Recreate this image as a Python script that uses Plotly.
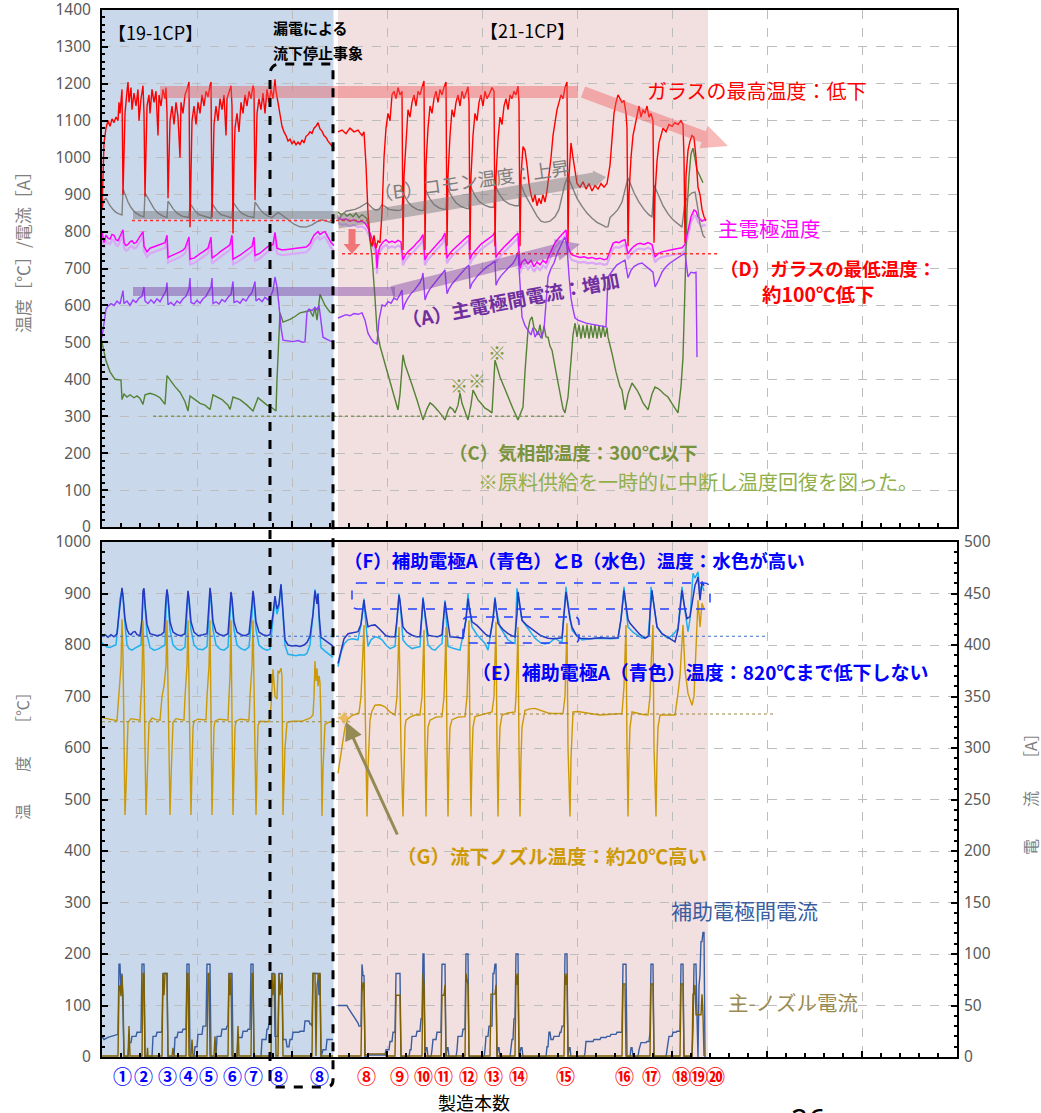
import math
import plotly.graph_objects as go

# ---------------- DATA (common time index on the horizontal scale) ----------------
# Top panel: temperatures [°C] / current [A]
red_19 = [(102,860),(103,960),(104,1040),(106,1080),(108,1100),(110,1085),(112,1105),(114,1095),(116,1110),(118,1100),(119,1150),(120,1120),(121,1170),(122,1185),(123,900),(124,1050),(125,1120),(127,1180),(128,1205),(129,1150),(131,1190),(132,1130),(134,1175),(136,1140),(138,1185),(139,1100),(141,1160),(143,1195),(144,1120),(145,895),(146,1060),(147,1140),(149,1170),(150,1120),(152,1185),(154,1150),(156,1180),(158,1060),(159,1170),(161,1140),(163,1185),(165,1160),(166,1190),(167,1120),(168,890),(169,1030),(170,1100),(172,1140),(174,1090),(176,1150),(178,1110),(180,1000),(181,1150),(183,1120),(185,1170),(187,1185),(189,1205),(190,812),(191,1030),(192,1100),(194,1140),(196,1090),(198,1150),(200,1120),(202,1170),(204,1140),(206,1180),(208,1165),(210,1195),(211,1205),(212,838),(213,1020),(214,1090),(216,1140),(218,1100),(220,1160),(222,1130),(224,1170),(226,1060),(227,1160),(229,1180),(231,1195),(232,1140),(233,795),(234,990),(235,1080),(237,1120),(239,1070),(241,1150),(243,1120),(245,1170),(247,1140),(249,1180),(251,1160),(253,1195),(254,1185),(255,885),(256,1050),(257,1120),(259,1160),(261,1130),(263,1175),(265,1120),(267,1185),(269,1150),(271,1185),(273,1160),(275,1212),(276,1180),(278,1150),(280,1110),(282,1085),(284,1070),(286,1060),(288,1045),(290,1050),(292,1038),(294,1045),(296,1035),(298,1042),(300,1036),(302,1048),(304,1040),(306,1058),(308,1062),(310,1070),(312,1066),(314,1080),(316,1085),(318,1095),(320,1078),(322,1072),(324,1060),(326,1055),(328,1045),(330,1038),(332,1030),(334,1025)]
red_21 = [(338,1070),(342,1075),(346,1065),(350,1080),(354,1070),(358,1075),(362,1060),(364,1070),(366,980),(368,850),(370,780),(372,760),(374,790),(376,755),(378,775),(380,770),(382,850),(384,1000),(386,1080),(388,1120),(390,1100),(392,1170),(394,1180),(396,1160),(398,1190),(400,1170),(402,1180),(403,750),(404,950),(406,1060),(408,1130),(410,1110),(412,1150),(414,1170),(416,1140),(418,1180),(420,1170),(422,1190),(424,1208),(425,750),(426,980),(428,1080),(430,1140),(432,1120),(434,1160),(436,1180),(438,1150),(440,1185),(442,1170),(444,1190),(446,1205),(447,760),(448,950),(450,1060),(452,1130),(454,1110),(456,1150),(458,1170),(460,1140),(462,1180),(464,1160),(466,1175),(468,1192),(469,1150),(470,750),(471,950),(473,1060),(475,1120),(477,1100),(479,1150),(481,1170),(483,1140),(485,1180),(487,1160),(489,1170),(492,1190),(494,1180),(495,760),(496,950),(498,1050),(500,1110),(502,1090),(504,1140),(506,1160),(508,1130),(510,1170),(512,1160),(514,1180),(516,1170),(518,1194),(519,1150),(520,760),(521,950),(523,1030),(525,1020),(527,980),(529,930),(531,900),(533,880),(535,900),(537,870),(539,890),(541,875),(543,900),(545,880),(547,910),(549,950),(551,1000),(553,1060),(555,1100),(557,1130),(559,1150),(561,1170),(563,1160),(565,1190),(567,1205),(568,770),(569,950),(571,1040),(573,1000),(575,960),(577,930),(580,920),(583,935),(586,915),(589,930),(592,910),(595,925),(598,915),(601,930),(604,920),(607,930),(610,980),(612,1060),(614,1120),(616,1150),(618,1170),(620,1160),(622,1150),(624,1155),(626,1120),(627,1080),(628,760),(629,900),(631,1000),(633,1060),(635,1090),(637,1120),(639,1140),(641,1110),(643,1130),(645,1120),(647,1140),(649,1110),(651,1120),(653,1100),(654,770),(655,900),(657,990),(659,1040),(661,1060),(663,1080),(666,1070),(669,1090),(672,1085),(675,1095),(678,1090),(681,1100),(683,1090),(684,1000),(685,770),(686,950),(688,1020),(690,1045),(692,1060),(694,1055),(696,1000),(698,920),(700,900),(702,860),(704,840),(706,830)]
gray_19 = [(102,862),(104,885),(106,890),(108,880),(110,870),(113,860),(116,852),(119,848),(122,845),(123,915),(125,900),(128,880),(131,865),(135,852),(140,843),(144,840),(145,905),(147,895),(150,878),(154,862),(158,850),(163,842),(167,838),(168,882),(170,875),(173,862),(177,850),(182,842),(189,838),(190,875),(192,868),(195,856),(199,846),(205,840),(211,836),(212,876),(214,868),(217,856),(221,846),(227,840),(232,837),(233,880),(235,872),(238,860),(242,849),(248,841),(254,838),(255,880),(257,872),(260,860),(264,849),(268,842),(272,838),(278,852),(282,845),(288,832),(294,820),(300,813),(306,812),(312,818),(318,828),(322,832),(326,829),(330,825),(334,822)]
gray_21 = [(338,830),(342,845),(346,855),(350,858),(355,860),(360,866),(364,872),(367,878),(370,870),(373,862),(376,858),(379,860),(382,872),(385,868),(389,860),(393,858),(397,857),(400,858),(402,860),(403,905),(405,895),(408,880),(412,868),(417,860),(421,857),(424,858),(425,915),(427,905),(430,888),(434,873),(439,864),(444,860),(446,860),(447,920),(449,910),(452,893),(456,878),(461,868),(466,863),(469,862),(470,925),(472,915),(475,897),(479,882),(484,872),(490,866),(494,866),(495,925),(497,915),(500,898),(504,884),(509,875),(515,870),(519,870),(520,930),(522,920),(525,900),(529,880),(533,860),(537,842),(541,828),(545,825),(550,828),(555,840),(559,860),(562,900),(565,930),(568,948),(570,935),(573,912),(577,890),(582,868),(587,850),(592,836),(597,825),(602,818),(606,812),(608,813),(610,838),(614,848),(618,860),(622,880),(626,925),(628,945),(630,932),(634,905),(639,880),(644,860),(649,845),(652,840),(654,926),(656,915),(659,895),(663,870),(668,848),(673,832),(678,820),(682,812),(685,880),(688,895),(692,905),(695,907),(698,860),(700,820),(703,790),(705,783)]
electrode_19 = [(102,800),(104,770),(106,790),(108,782),(110,780),(112,792),(114,790),(116,778),(118,775),(121,795),(123,805),(124,770),(126,762),(128,765),(130,772),(132,775),(134,768),(136,770),(138,778),(140,785),(143,800),(144,760),(147,745),(150,755),(153,758),(155,760),(158,762),(160,765),(163,768),(165,770),(167,790),(168,730),(170,733),(172,735),(174,738),(176,740),(178,742),(180,745),(183,750),(185,755),(189,785),(190,725),(192,727),(194,728),(196,732),(198,735),(200,740),(203,745),(206,750),(208,755),(211,785),(212,728),(214,732),(216,735),(218,740),(220,745),(223,750),(225,755),(228,760),(230,765),(232,790),(233,725),(235,728),(237,730),(240,736),(242,740),(245,746),(247,750),(250,756),(252,760),(254,785),(255,735),(257,738),(259,740),(262,746),(264,750),(266,756),(268,760),(271,762),(273,765),(275,798),(277,755),(280,752),(282,750),(285,751),(288,752),(291,754),(294,755),(297,754),(300,755),(303,757),(306,758),(308,762),(310,768),(312,780),(314,790),(316,795),(318,800),(320,792),(321,795),(323,798),(325,800),(327,790),(328,785),(330,775),(331,770),(334,762)]
electrode_21 = [(338,837),(342,832),(346,834),(350,828),(354,832),(358,826),(362,828),(365,823),(368,810),(371,790),(374,770),(376,752),(377,700),(378,740),(380,760),(383,772),(386,778),(389,770),(392,774),(395,770),(398,776),(401,772),(403,723),(405,735),(408,745),(411,752),(414,760),(417,770),(420,778),(423,792),(425,723),(427,735),(430,745),(433,755),(436,765),(439,772),(442,780),(445,796),(447,728),(449,738),(452,748),(455,756),(458,764),(461,770),(464,778),(467,786),(469,790),(470,725),(472,738),(475,748),(478,758),(481,766),(484,772),(487,778),(490,784),(493,790),(495,800),(496,730),(498,740),(501,750),(504,758),(507,766),(510,774),(513,780),(516,790),(518,796),(520,700),(522,718),(525,725),(528,712),(531,722),(534,705),(537,718),(540,710),(543,722),(546,715),(549,735),(552,755),(555,770),(558,780),(561,790),(564,800),(566,804),(568,760),(570,745),(572,737),(576,734),(580,730),(584,732),(588,728),(592,730),(596,726),(600,728),(604,724),(607,726),(610,750),(613,768),(616,772),(619,770),(622,775),(625,778),(628,740),(631,752),(634,760),(637,766),(640,768),(644,765),(648,770),(652,765),(655,731),(658,740),(662,745),(666,748),(670,750),(674,752),(678,754),(682,756),(685,765),(688,800),(691,840),(694,858),(696,855),(698,840),(700,835),(702,828),(704,832),(706,830)]
current_19 = [(102,514),(104,560),(106,590),(108,598),(111,605),(114,600),(117,612),(120,604),(122,625),(123,640),(124,605),(127,612),(130,600),(133,615),(136,608),(139,620),(142,625),(144,650),(145,612),(148,605),(151,615),(154,606),(157,618),(160,610),(163,625),(166,640),(167,662),(168,602),(171,608),(174,600),(177,612),(180,606),(183,618),(186,625),(189,645),(190,674),(191,608),(194,604),(197,614),(200,606),(203,618),(206,625),(209,640),(211,650),(212,674),(213,605),(216,610),(219,604),(222,616),(225,610),(228,622),(231,630),(233,665),(234,608),(237,612),(240,606),(243,618),(246,612),(249,625),(252,635),(255,665),(256,612),(259,618),(262,610),(265,622),(268,615),(271,628),(273,640),(275,677),(277,650),(279,600),(281,540),(283,506),(288,504),(293,502),(298,505),(303,500),(305,502),(307,582),(309,590),(312,586),(315,595),(317,588),(319,600),(321,560),(323,514),(327,508),(330,504),(334,501)]
current_21 = [(338,566),(342,570),(346,575),(350,572),(354,578),(358,576),(362,580),(365,560),(368,525),(371,510),(374,500),(377,496),(379,560),(382,601),(385,598),(388,610),(391,606),(394,620),(397,615),(400,630),(402,642),(403,588),(405,605),(408,620),(411,632),(414,640),(417,650),(420,662),(422,675),(423,688),(425,615),(427,630),(430,645),(433,655),(436,665),(439,675),(442,685),(445,696),(447,632),(449,645),(452,658),(455,668),(458,678),(461,688),(464,696),(467,705),(469,709),(470,645),(472,660),(475,672),(478,682),(481,690),(484,698),(487,705),(490,710),(493,716),(495,720),(496,655),(498,668),(501,680),(504,690),(507,698),(510,706),(513,714),(516,728),(518,745),(520,660),(522,569),(525,545),(528,533),(531,520),(533,540),(535,514),(538,530),(541,512),(544,535),(546,600),(548,677),(551,700),(554,715),(557,740),(560,760),(563,775),(565,785),(567,760),(569,680),(571,620),(573,590),(575,566),(578,560),(582,555),(586,552),(590,550),(594,548),(598,546),(602,544),(606,542),(608,677),(611,690),(614,700),(617,710),(620,715),(623,720),(625,723),(628,674),(631,695),(634,705),(638,712),(642,715),(646,705),(650,696),(653,690),(655,650),(658,665),(662,690),(666,705),(670,715),(674,722),(678,731),(682,738),(685,742),(688,677),(691,690),(694,688),(695,688),(696,690),(697,460)]
gas_19 = [(102,500),(106,450),(110,420),(115,400),(121,398),(122,345),(124,360),(127,352),(130,358),(134,350),(137,355),(140,348),(143,332),(145,358),(150,362),(155,358),(160,350),(165,332),(167,410),(170,398),(175,380),(180,365),(185,340),(188,314),(190,355),(195,345),(200,335),(205,330),(210,318),(213,358),(217,352),(222,345),(228,330),(230,318),(233,352),(240,345),(247,330),(253,314),(258,350),(262,340),(267,330),(272,323),(275,318),(276,314),(277,400),(279,560),(280,580),(283,555),(290,562),(295,570),(300,580),(305,583),(310,586),(313,570),(315,595),(317,560),(320,630),(322,618),(325,600),(330,582),(333,580)]
gas_21 = [(338,853),(341,846),(344,850),(347,842),(350,848),(353,840),(356,850),(359,838),(362,846),(365,840),(367,835),(369,800),(372,731),(375,620),(377,533),(380,490),(382,471),(386,430),(390,398),(394,360),(398,317),(400,360),(403,466),(405,440),(407,425),(412,385),(417,344),(420,315),(423,290),(427,320),(430,336),(433,330),(435,325),(438,315),(441,305),(445,290),(448,315),(450,325),(453,318),(455,309),(458,330),(460,363),(462,335),(465,310),(468,290),(471,330),(473,371),(476,355),(478,344),(481,335),(485,322),(488,317),(492,309),(495,452),(498,420),(500,406),(504,380),(508,352),(513,320),(518,290),(521,310),(523,325),(525,420),(528,533),(530,560),(532,569),(534,540),(536,533),(538,520),(540,548),(542,510),(544,545),(546,515),(548,514),(550,490),(552,479),(556,420),(560,360),(563,320),(565,309),(568,352),(571,450),(573,520),(575,552),(577,515),(579,548),(581,510),(583,546),(585,512),(587,548),(589,510),(591,546),(593,512),(595,548),(597,510),(599,546),(601,512),(603,545),(605,515),(607,540),(608,514),(612,470),(616,420),(620,380),(622,371),(625,317),(628,360),(632,390),(635,380),(637,371),(640,355),(643,336),(646,325),(648,317),(652,360),(655,379),(658,375),(660,371),(664,360),(668,352),(673,330),(678,309),(681,380),(683,460),(685,650),(687,858),(689,950),(691,1010),(693,1026),(695,1000),(697,967),(700,950),(703,932)]

# Bottom panel: temperatures [°C] (left) and currents [A] (right)
auxA_19 = [(102,817),(105,820),(108,815),(111,820),(114,816),(117,822),(119,860),(121,905),(122,911),(123,895),(125,850),(127,830),(129,822),(131,820),(133,825),(135,826),(137,820),(140,818),(142,850),(143,905),(144,910),(145,880),(147,840),(150,822),(153,820),(157,818),(161,820),(164,825),(166,890),(167,908),(168,895),(170,845),(173,825),(177,820),(181,818),(185,822),(187,880),(188,905),(189,890),(191,845),(194,825),(198,818),(203,820),(207,822),(209,880),(210,911),(211,895),(213,845),(216,825),(220,820),(224,818),(228,822),(230,875),(231,903),(232,890),(234,845),(237,825),(241,820),(245,818),(249,822),(252,880),(253,905),(254,890),(256,845),(259,825),(263,820),(267,818),(270,820),(273,860),(275,895),(277,870),(279,880),(281,918),(283,870),(285,810),(288,800),(292,798),(296,799),(300,797),(304,800),(307,805),(310,817),(313,860),(315,905),(317,880),(318,900),(319,860),(321,815),(324,811),(328,806),(333,798)]
auxA_21 = [(338,764),(341,790),(344,812),(348,822),(352,824),(358,826),(361,840),(363,880),(364,887),(365,870),(368,835),(371,838),(375,839),(379,832),(382,826),(386,818),(390,816),(395,816),(397,850),(399,897),(400,885),(403,835),(407,825),(412,819),(416,816),(420,816),(422,860),(423,890),(424,875),(428,819),(433,817),(438,816),(442,820),(444,860),(445,884),(446,870),(450,816),(456,815),(463,813),(466,850),(468,890),(469,875),(472,845),(477,838),(482,829),(486,820),(490,816),(493,850),(495,890),(496,875),(498,842),(503,830),(508,822),(512,818),(515,816),(517,860),(518,903),(519,890),(522,848),(527,838),(531,832),(535,826),(541,818),(548,813),(553,812),(558,813),(562,814),(564,860),(566,903),(567,890),(570,850),(572,835),(576,820),(580,813),(590,812),(600,814),(610,813),(618,814),(621,850),(624,906),(625,890),(628,850),(630,842),(635,830),(640,820),(645,813),(649,818),(650,860),(652,906),(653,890),(657,835),(662,822),(668,815),(672,810),(675,806),(678,830),(680,870),(682,906),(684,880),(687,851),(690,855),(693,890),(695,916),(697,925),(698,932),(700,887),(702,923),(704,915)]
auxB_19 = [(102,805),(104,800),(107,796),(110,795),(113,798),(116,800),(118,840),(120,890),(122,905),(123,895),(125,840),(127,800),(129,793),(132,790),(135,794),(138,797),(141,800),(142,840),(143,895),(144,905),(145,880),(147,820),(150,795),(154,790),(158,792),(162,796),(165,800),(166,870),(167,900),(168,890),(170,830),(173,800),(177,792),(181,790),(185,796),(187,860),(188,900),(189,885),(191,830),(194,800),(198,792),(203,791),(207,797),(209,860),(210,905),(211,890),(213,830),(216,800),(220,792),(224,790),(228,796),(230,860),(231,898),(232,885),(234,830),(237,800),(241,793),(245,790),(249,796),(252,860),(253,900),(254,885),(256,830),(259,800),(263,793),(267,790),(270,792),(273,850),(275,890),(277,860),(279,875),(281,918),(283,860),(285,800),(288,782),(292,780),(296,779),(300,781),(304,780),(307,784),(310,800),(313,860),(315,908),(317,880),(318,900),(319,850),(321,795),(325,788),(329,782),(333,776)]
auxB_21 = [(338,758),(341,785),(344,802),(348,810),(352,812),(358,810),(361,840),(363,880),(364,890),(365,860),(368,797),(371,810),(375,816),(379,814),(382,810),(386,800),(390,793),(395,797),(397,850),(399,900),(400,885),(403,810),(407,800),(412,793),(416,795),(420,797),(422,860),(423,893),(424,875),(428,800),(432,792),(435,790),(439,798),(442,803),(444,860),(445,887),(446,860),(448,797),(454,793),(460,790),(466,850),(468,900),(469,880),(472,835),(477,820),(482,810),(485,803),(488,790),(493,850),(495,893),(496,870),(500,835),(504,822),(508,810),(512,805),(515,803),(516,860),(517,910),(518,895),(522,848),(527,835),(531,825),(535,813),(540,805),(545,802),(550,805),(555,813),(559,808),(562,806),(564,860),(566,913),(567,895),(570,850),(572,829),(577,818),(582,810),(590,812),(600,813),(610,812),(618,813),(621,850),(624,913),(625,890),(628,835),(633,825),(638,818),(642,813),(648,816),(650,860),(651,913),(653,890),(657,835),(662,822),(668,813),(673,820),(678,832),(680,870),(682,913),(684,880),(688,826),(690,850),(693,939),(695,930),(698,942),(700,900),(702,916),(704,905)]
nozzle_19 = [(102,659),(106,657),(110,655),(114,654),(117,653),(118,680),(120,730),(121,760),(122,850),(123,780),(124,620),(125,470),(126,520),(127,580),(128,650),(131,657),(136,655),(140,654),(141,700),(142,735),(143,848),(144,760),(145,600),(146,470),(147,530),(148,600),(149,650),(152,658),(156,655),(160,654),(162,700),(164,720),(165,735),(166,760),(167,848),(168,740),(169,600),(170,470),(171,540),(172,620),(173,650),(176,657),(180,655),(184,654),(185,700),(186,735),(187,760),(188,848),(189,700),(190,550),(191,470),(192,560),(193,640),(194,652),(198,656),(203,655),(206,655),(207,700),(208,740),(209,760),(210,848),(211,700),(212,470),(213,560),(214,640),(215,652),(219,656),(224,655),(228,654),(229,700),(230,740),(231,848),(232,700),(233,470),(234,560),(235,640),(236,652),(240,656),(245,655),(249,654),(250,700),(251,735),(252,760),(253,848),(254,700),(255,560),(256,470),(257,560),(258,645),(260,652),(265,651),(269,651),(271,680),(272,720),(273,753),(275,700),(277,695),(278,750),(279,745),(281,755),(282,740),(283,470),(285,600),(287,650),(292,652),(297,652),(302,652),(306,655),(310,658),(313,664),(314,700),(315,769),(316,730),(317,755),(318,720),(319,740),(320,727),(321,650),(322,468),(323,560),(325,646),(329,650),(333,652)]
nozzle_21 = [(338,551),(340,580),(342,602),(345,640),(348,657),(352,663),(356,666),(359,668),(361,700),(362,760),(364,839),(365,700),(366,560),(367,467),(368,560),(369,620),(370,654),(372,672),(375,683),(380,684),(385,680),(390,670),(395,664),(397,700),(398,760),(399,835),(400,720),(401,600),(403,467),(404,580),(405,640),(406,654),(410,660),(415,664),(420,664),(422,700),(423,760),(424,829),(425,600),(426,467),(427,580),(428,640),(430,654),(436,660),(442,661),(444,700),(445,760),(446,835),(447,600),(448,467),(449,580),(450,640),(452,655),(458,660),(465,661),(467,700),(468,760),(469,848),(470,600),(471,467),(472,580),(473,640),(475,661),(482,665),(488,668),(492,670),(494,700),(495,760),(496,845),(497,600),(498,467),(499,580),(500,640),(502,664),(508,668),(515,670),(516,700),(517,760),(518,835),(519,600),(520,467),(521,580),(522,640),(525,673),(530,676),(535,677),(542,672),(548,668),(552,667),(558,667),(563,667),(565,700),(566,760),(567,842),(568,600),(570,467),(571,580),(572,640),(573,670),(578,671),(582,670),(590,667),(600,664),(610,665),(618,666),(622,667),(624,720),(625,780),(626,839),(627,600),(628,467),(629,580),(630,640),(632,670),(638,667),(643,665),(648,664),(650,700),(651,760),(653,839),(654,600),(656,467),(657,580),(658,640),(660,664),(665,664),(670,664),(675,664),(678,706),(680,740),(683,839),(685,751),(688,706),(692,683),(694,700),(695,745),(697,816),(698,887),(700,835),(702,881),(704,870)]
auxcur_19 = [(102,20),(104,17),(108,19),(112,20),(116,21),(118,22),(119,90),(120,90),(121,63),(122,81),(123,43),(124,0),(128,0),(129,14),(131,14),(132,20),(136,20),(137,24),(141,24),(142,90),(144,90),(145,0),(152,0),(153,20),(156,20),(157,24),(161,24),(162,25),(163,81),(167,81),(168,0),(174,0),(175,19),(177,19),(178,24),(182,24),(183,27),(186,27),(187,90),(189,90),(190,0),(194,0),(195,10),(197,10),(198,22),(202,22),(203,30),(206,30),(207,90),(210,90),(211,0),(216,0),(217,20),(221,20),(222,27),(226,27),(227,30),(228,30),(229,81),(232,81),(233,0),(237,0),(238,19),(242,19),(243,25),(247,25),(248,27),(250,27),(251,90),(253,90),(254,0),(261,0),(262,17),(266,17),(267,27),(268,27),(269,32),(271,32),(272,81),(274,81),(275,20),(278,20),(279,81),(282,81),(283,17),(286,17),(287,10),(289,10),(290,17),(292,17),(293,24),(299,24),(300,25),(304,25),(305,35),(309,35),(310,32),(311,32),(312,30),(313,81),(318,81),(319,60),(320,81),(321,0),(323,7),(326,7),(327,17),(333,17)]
auxcur_21 = [(338,50),(347,50),(348,48),(350,45),(353,40),(356,36),(358,33),(359,30),(361,30),(362,90),(363,79),(364,79),(365,0),(367,0),(368,2),(385,2),(386,7),(389,7),(390,15),(392,15),(393,24),(395,24),(396,81),(400,81),(401,0),(409,0),(410,7),(411,7),(412,20),(416,20),(417,25),(420,25),(421,37),(422,37),(423,100),(424,100),(425,0),(426,9),(427,9),(428,0),(431,0),(432,7),(433,17),(436,17),(437,24),(441,24),(442,90),(445,90),(446,0),(447,9),(448,9),(449,0),(456,0),(457,7),(458,20),(462,20),(463,27),(465,27),(466,100),(468,100),(469,0),(484,0),(485,7),(486,20),(488,20),(489,30),(492,30),(493,81),(494,81),(495,90),(496,90),(497,0),(498,9),(499,9),(500,0),(510,0),(511,7),(512,17),(513,17),(514,37),(515,37),(516,100),(518,100),(519,0),(521,9),(522,9),(523,0),(546,0),(547,10),(548,10),(549,24),(550,24),(551,17),(553,17),(554,20),(559,20),(560,24),(561,24),(562,30),(564,30),(565,100),(567,100),(568,0),(569,9),(570,9),(571,0),(584,0),(585,4),(586,15),(593,15),(594,17),(600,17),(601,19),(606,19),(607,20),(610,20),(611,22),(616,22),(617,24),(622,24),(623,90),(626,90),(627,0),(630,0),(631,9),(632,9),(633,0),(638,0),(639,7),(641,14),(646,14),(647,15),(649,15),(650,24),(651,90),(653,90),(654,0),(666,0),(667,7),(669,20),(672,20),(673,24),(676,24),(677,25),(680,25),(681,90),(683,90),(684,0),(692,0),(693,27),(694,90),(696,90),(697,40),(698,0),(699,69),(700,80),(701,112),(702,112),(703,121),(704,121),(705,0)]
mncur_19 = [(102,1),(118,1),(119,69),(120,69),(121,59),(122,79),(123,59),(124,1),(128,1),(129,30),(130,1),(142,1),(143,81),(144,81),(145,1),(147,1),(147.5,9),(148,1),(162,1),(163,81),(164,60),(165,81),(167,81),(168,1),(172,1),(173,9),(174,1),(186,1),(187,81),(188,81),(189,1),(191,1),(192,17),(193,1),(207,1),(208,81),(209,81),(210,1),(214,1),(215,20),(216,1),(228,1),(229,81),(230,60),(231,81),(232,1),(237,1),(238,30),(239,1),(251,1),(252,81),(253,81),(254,1),(271,1),(272,81),(273,60),(275,81),(276,1),(278,1),(279,81),(280,60),(282,81),(283,1),(312,1),(313,81),(315,81),(316,1),(317,69),(319,81),(320,81),(321,1),(333,1)]
mncur_21 = [(338,1),(361,1),(362,63),(363,72),(364,72),(365,1),(368,3),(385,3),(386,1),(395,1),(396,60),(397,60),(400,60),(401,1),(422,1),(423,81),(424,70),(425,1),(441,1),(442,60),(444,60),(445,70),(446,1),(465,1),(466,81),(468,70),(469,1),(490,1),(491,61),(495,61),(496,70),(497,1),(515,1),(516,81),(517,70),(518,81),(519,1),(564,1),(565,81),(566,70),(567,81),(568,1),(622,1),(623,71),(625,71),(626,1),(650,1),(651,71),(653,71),(654,1),(680,1),(681,71),(683,71),(684,1),(692,1),(693,61),(694,61),(695,70),(696,41),(701,41),(702,61),(703,41),(704,1)]

# production-run markers under the axis
run_labels_19 = ["①", "②", "③", "④", "⑤", "⑥", "⑦", "⑧", "⑧"]
run_t_19 = [122, 143, 167, 188, 208, 232, 253, 278, 319]
run_labels_21 = ["⑧", "⑨", "⑩", "⑪", "⑫", "⑬", "⑭", "⑮", "⑯", "⑰", "⑱", "⑲", "⑳"]
run_t_21 = [366, 399, 423, 443, 468, 493, 518, 565, 624, 651, 681, 698, 715]

# ---------------- helpers ----------------
def join(a, b):
    t = [p[0] for p in a] + [None] + [p[0] for p in b]
    v = [p[1] for p in a] + [None] + [p[1] for p in b]
    return t, v

L, R, T, B = 102, 84, 10, 56
W, H = 1041, 1113
PW, PH = W - L - R, H - T - B
def PXc(x): return (x - L) / PW
def PYc(y): return (H - B - y) / PH

def path_from(cmds):
    s = []
    for c in cmds:
        op = c[0]
        pts = " ".join(f"{PXc(x):.5f},{PYc(y):.5f}" for (x, y) in c[1:])
        s.append(f"{op} {pts}")
    return " ".join(s)

def poly(pts):
    return path_from([("M", pts[0])] + [("L", p) for p in pts[1:]] + [("Z",)])

def arrow_poly(x0, y0, x1, y1, w, hl, hw):
    dx, dy = x1 - x0, y1 - y0
    d = math.hypot(dx, dy)
    ux, uy = dx / d, dy / d
    nx, ny = -uy, ux
    bx, by = x1 - ux * hl, y1 - uy * hl
    return poly([(x0 + nx * w / 2, y0 + ny * w / 2), (bx + nx * w / 2, by + ny * w / 2),
                 (bx + nx * hw / 2, by + ny * hw / 2), (x1, y1),
                 (bx - nx * hw / 2, by - ny * hw / 2), (bx - nx * w / 2, by - ny * w / 2),
                 (x0 - nx * w / 2, y0 - ny * w / 2)])

def rrect(x0, y0, x1, y1, r):
    return path_from([("M", (x0 + r, y0)), ("L", (x1 - r, y0)), ("Q", (x1, y0), (x1, y0 + r)),
                      ("L", (x1, y1 - r)), ("Q", (x1, y1), (x1 - r, y1)), ("L", (x0 + r, y1)),
                      ("Q", (x0, y1), (x0, y1 - r)), ("L", (x0, y0 + r)), ("Q", (x0, y0), (x0 + r, y0)), ("Z",)])

JP = "Noto Sans CJK JP"

fig = go.Figure()

def add(series, axis_x, axis_y, color, width=1.4, name=""):
    t, v = join(*series)
    fig.add_trace(go.Scatter(x=t, y=v, mode="lines", xaxis=axis_x, yaxis=axis_y,
                             line=dict(color=color, width=width), name=name,
                             showlegend=False, hoverinfo="skip", connectgaps=False))

# top panel
add((electrode_19, electrode_21), "x", "y", "#d9a8f7", 2.2, "主電極温度(2)")
add((gas_19, gas_21), "x", "y5", "#548235", 1.4, "気相部温度")
add((current_19, current_21), "x", "y5", "#9b3cff", 1.4, "主電極間電流")
add((electrode_19, electrode_21), "x", "y5", "#ff00ff", 1.5, "主電極温度")
add((gray_19, gray_21), "x", "y5", "#808080", 1.4, "コモン温度")
add((red_19, red_21), "x", "y5", "#ff0000", 1.4, "ガラス温度")
# bottom panel
add((auxB_19, auxB_21), "x2", "y2", "#1fb0f0", 1.5, "補助電極B")
add((auxA_19, auxA_21), "x2", "y2", "#2438c0", 1.5, "補助電極A")
add((nozzle_19, nozzle_21), "x2", "y2", "#cc9a06", 1.4, "流下ノズル温度")
add((auxcur_19, auxcur_21), "x2", "y3", "#3a5da0", 1.4, "補助電極間電流")
add((mncur_19, mncur_21), "x2", "y3", "#7f6000", 1.4, "主-ノズル電流")

tickfont = dict(family="Noto Sans", size=15.5, color="#595959")
xcommon = dict(range=[102, 957], tick0=102, dtick=95, showticklabels=False, ticks="inside",
               ticklen=6, tickwidth=1.5, tickcolor="black", showgrid=True, gridcolor="#bdbdbd",
               griddash="dash", gridwidth=1, showline=True, linecolor="black", linewidth=2,
               mirror=True, zeroline=False, automargin=False,
               minor=dict(tick0=102, dtick=19, ticks="inside", ticklen=4, tickcolor="black", showgrid=False))
ycommon = dict(ticks="inside", ticklen=6, tickwidth=1.5, tickcolor="black", showgrid=True,
               gridcolor="#bdbdbd", griddash="dash", gridwidth=1, showline=True, linecolor="black",
               linewidth=2, mirror=True, zeroline=False, tickfont=tickfont, ticklabelstandoff=6,
               automargin=False, ticklabeloverflow="allow")

top_dom = [(H - B - 527) / PH, 1.0]
bot_dom = [0.0, (H - B - 542) / PH]

fig.update_layout(
    width=W, height=H, margin=dict(l=L, r=R, t=T, b=B, autoexpand=False),
    paper_bgcolor="white", plot_bgcolor="rgba(0,0,0,0)", showlegend=False,
    xaxis=dict(domain=[0, 1], anchor="y", **xcommon),
    xaxis2=dict(domain=[0, 1], anchor="y2", **xcommon),
    yaxis=dict(domain=top_dom, anchor="x", range=[14, 1414], visible=False, showgrid=False, automargin=False),
    yaxis5=dict(overlaying="y", anchor="x", range=[0, 1400], dtick=100,
                minor=dict(dtick=20, ticks="inside", ticklen=3, tickcolor="black", showgrid=False), **ycommon),
    yaxis2=dict(domain=bot_dom, anchor="x2", range=[0, 1000], dtick=100,
                minor=dict(dtick=20, ticks="inside", ticklen=3, tickcolor="black", showgrid=False), **ycommon),
    yaxis3=dict(overlaying="y2", anchor="x2", side="right", range=[0, 500], dtick=50,
                ticks="inside", ticklen=6, tickwidth=1.5, tickcolor="black", showgrid=False,
                showline=False, zeroline=False, tickfont=tickfont, ticklabelstandoff=6, automargin=False,
                ticklabeloverflow="allow",
                minor=dict(dtick=10, ticks="inside", ticklen=3, tickcolor="black", showgrid=False)),
)

shapes = []
# shaded campaign periods
for xr, yr in (("x", "y domain"), ("x2", "y2 domain")):
    shapes.append(dict(type="rect", xref=xr, yref=yr, x0=102, x1=333.5, y0=0, y1=1,
                       fillcolor="#c9d8ea", line=dict(width=0), layer="below"))
    shapes.append(dict(type="rect", xref=xr, yref=yr, x0=338, x1=708, y0=0, y1=1,
                       fillcolor="#f2dfe0", line=dict(width=0), layer="below"))
# dotted reference levels
shapes += [
    dict(type="line", xref="x", yref="y5", x0=132, x1=372, y0=830, y1=830, line=dict(color="#ff3030", width=1.5, dash="dot")),
    dict(type="line", xref="x", yref="y5", x0=342, x1=719, y0=740, y1=740, line=dict(color="#ff3030", width=1.5, dash="dot")),
    dict(type="line", xref="x", yref="y5", x0=153, x1=567, y0=300, y1=300, line=dict(color="#7f9a4a", width=1.5, dash="dot")),
    dict(type="line", xref="x2", yref="y2", x0=102, x1=768, y0=817, y1=817, line=dict(color="#3f6fc0", width=1.2, dash="dot")),
    dict(type="line", xref="x2", yref="y2", x0=102, x1=350, y0=651, y1=651, line=dict(color="#9c8a40", width=1.2, dash="dot")),
    dict(type="line", xref="x2", yref="y2", x0=338, x1=774, y0=666, y1=666, line=dict(color="#9c8a40", width=1.2, dash="dot")),
]
# thick translucent trend arrows
shapes += [
    dict(type="path", xref="paper", yref="paper", path=poly([(160, 86), (578, 86), (578, 98), (160, 98)]),
         fillcolor="rgba(240,90,90,0.42)", line=dict(width=0)),
    dict(type="path", xref="paper", yref="paper", path=arrow_poly(583, 92, 728, 146, 12, 26, 24),
         fillcolor="rgba(240,90,90,0.42)", line=dict(width=0)),
    dict(type="path", xref="paper", yref="paper", path=poly([(133, 211), (338, 211), (338, 219), (133, 219)]),
         fillcolor="rgba(110,110,110,0.42)", line=dict(width=0)),
    dict(type="path", xref="paper", yref="paper", path=arrow_poly(338, 222, 606, 177, 13, 12, 17),
         fillcolor="rgba(110,110,110,0.42)", line=dict(width=0)),
    dict(type="path", xref="paper", yref="paper", path=poly([(133, 287), (395, 287), (395, 296), (133, 296)]),
         fillcolor="rgba(112,48,160,0.40)", line=dict(width=0)),
    dict(type="path", xref="paper", yref="paper", path=arrow_poly(392, 292, 580, 244, 12, 24, 22),
         fillcolor="rgba(112,48,160,0.40)", line=dict(width=0)),
    dict(type="path", xref="paper", yref="paper", path=arrow_poly(352, 229, 352, 254, 7, 10, 17),
         fillcolor="rgba(240,100,100,0.85)", line=dict(width=0)),
]
# dashed boxes
shapes.append(dict(type="path", xref="paper", yref="paper",
                   path=path_from([("M", (270, 1079)), ("L", (270, 75)), ("Q", (270, 64), (281, 64)),
                                   ("L", (333, 64)), ("L", (333, 1080)), ("Q", (333, 1087), (326, 1087)),
                                   ("L", (277, 1087)), ("Q", (270, 1087), (270, 1079))]),
                   line=dict(color="black", width=3, dash="dash")))
shapes.append(dict(type="path", xref="paper", yref="paper", path=rrect(352, 583, 710, 609, 6),
                   line=dict(color="#2040ff", width=1.5, dash="dash")))
shapes.append(dict(type="path", xref="paper", yref="paper", path=rrect(463, 617, 579, 643, 5),
                   line=dict(color="#2040ff", width=1.5, dash="dash")))
fig.update_layout(shapes=shapes)

ann = []
def text(px, py, s, size, color, bold=False, xanchor="left", angle=0, family=JP):
    ann.append(dict(x=PXc(px), y=PYc(py), xref="paper", yref="paper", text=(f"<b>{s}</b>" if bold else s),
                    showarrow=False, xanchor=xanchor, yanchor="middle", textangle=angle,
                    font=dict(family=family, size=size, color=color)))

text(155, 32, "【19-1CP】", 18, "black", xanchor="center")
text(527, 30, "【21-1CP】", 18, "black", xanchor="center")
text(271, 28, "漏電による", 15, "black", bold=True)
text(271, 52, "流下停止事象", 15, "black", bold=True)
text(645, 90, "ガラスの最高温度：低下", 20, "#ff0000")
text(471, 180, "（B）コモン温度：上昇", 18.5, "#7f7f7f", xanchor="center", angle=-8)
text(716, 228, "主電極温度", 20.5, "#ff00ff")
text(718, 268, "（D）ガラスの最低温度：", 18.5, "#ff0000", bold=True)
text(760, 293, "約100℃低下", 19.5, "#ff0000", bold=True)
text(510, 300, "（A）主電極間電流：増加", 19, "#7030a0", bold=True, xanchor="center", angle=-11)
text(447, 452, "（C）気相部温度：300℃以下", 18.5, "#77933c", bold=True)
text(476, 481, "※原料供給を一時的に中断し温度回復を図った。", 20, "#8fb04a")
for (mx, my) in ((459, 385), (477, 380), (497, 352)):
    text(mx, my, "※", 18, "#7c9a3c", bold=True, xanchor="center")
text(342, 560, "（F）補助電極A（青色）とB（水色）温度：水色が高い", 18.5, "#0000ff", bold=True)
text(470, 671, "（E）補助電極A（青色）温度：820℃まで低下しない", 19, "#0000ff", bold=True)
text(395, 856, "（G）流下ノズル温度：約20℃高い", 19.5, "#cc9a06", bold=True)
text(669, 910, "補助電極間電流", 21, "#3a5da0")
text(726, 1002, "主-ノズル電流", 20.5, "#9c8b50")
text(474, 1102, "製造本数", 18, "black", xanchor="center")
text(808, 1119, "26", 30, "black", xanchor="center", family="Noto Sans")
text(344, 718, "✦", 22, "rgba(232,180,70,0.85)", xanchor="center", family="DejaVu Sans")
# axis titles
text(22, 248, "温度［℃］/電流［A］", 17, "#7f7f7f", xanchor="center", angle=-90)
text(22, 752, "温　　度　　［℃］", 16, "#7f7f7f", xanchor="center", angle=-90)
text(1030, 790, "電　　流　　［A］", 16, "#7f7f7f", xanchor="center", angle=-90)
# nozzle arrow
ann.append(dict(x=PXc(346), y=PYc(722), xref="paper", yref="paper", text="", showarrow=True,
                ax=52, ay=114, arrowhead=2, arrowsize=1.2, arrowwidth=3, arrowcolor="#948a54"))
# run markers
for lab, t in zip(run_labels_19, run_t_19):
    ann.append(dict(x=t, xref="x2", y=PYc(1076), yref="paper", yanchor="middle", text=f"<b>{lab}</b>",
                    showarrow=False, font=dict(family=JP, size=19, color="#0000ff")))
for lab, t in zip(run_labels_21, run_t_21):
    ann.append(dict(x=t, xref="x2", y=PYc(1076), yref="paper", yanchor="middle", text=f"<b>{lab}</b>",
                    showarrow=False, font=dict(family=JP, size=19, color="#ff0000")))
fig.update_layout(annotations=ann)

fig.write_html("out.html", config={"displayModeBar": False},
               post_script="document.body.style.margin='0px';")
